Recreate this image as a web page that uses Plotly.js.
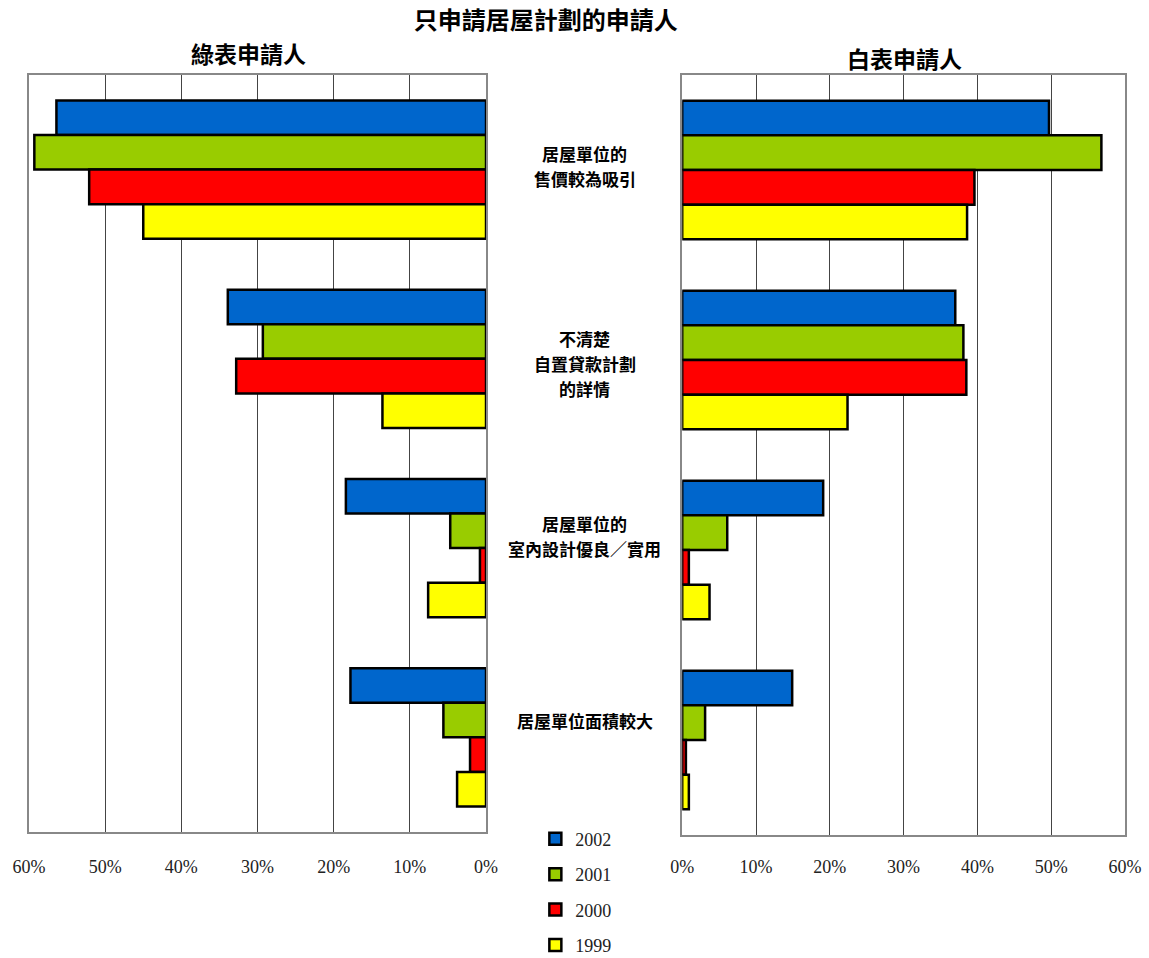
<!DOCTYPE html>
<html>
<head>
<meta charset="utf-8">
<script src="https://cdn.plot.ly/plotly-3.0.1.min.js"></script>
<style>html,body{margin:0;padding:0;background:#fff;}</style>
</head>
<body>
<div id="chart" style="width:1149px;height:958px;"></div>
<script>
const categories = ["居屋單位的<br>售價較為吸引", "不清楚<br>自置貸款計劃<br>的詳情", "居屋單位的<br>室內設計優良／實用", "居屋單位面積較大"];
const years = ["2002", "2001", "2000", "1999"];
const colors = ["#0066CC", "#99CC00", "#FF0000", "#FFFF00"];
// 綠表申請人 (%)
const green2002 = [56.4, 33.9, 18.4, 17.8];
const green2001 = [59.3, 29.3, 4.7, 5.6];
const green2000 = [52.1, 32.8, 0.8, 2.1];
const green1999 = [45.0, 13.6, 7.6, 3.8];
// 白表申請人 (%)
const white2002 = [49.7, 37.0, 19.1, 14.9];
const white2001 = [56.8, 38.1, 6.1, 3.1];
const white2000 = [39.6, 38.5, 0.9, 0.5];
const white1999 = [38.6, 22.4, 3.7, 0.9];
const tickVals = [0, 10, 20, 30, 40, 50, 60];
const tickText = ["0%", "10%", "20%", "30%", "40%", "50%", "60%"];
const labelShift = [4, -5, 12, 17];

const greenSeries = [green2002, green2001, green2000, green1999];
const whiteSeries = [white2002, white2001, white2000, white1999];
const catIdx = categories.map((c, i) => i);

const traces = [];
years.forEach((yr, k) => {
  traces.push({
    type: "bar", orientation: "h", name: yr, legendgroup: yr,
    x: greenSeries[k], y: catIdx, xaxis: "x", yaxis: "y",
    marker: {color: colors[k], line: {color: "#000", width: 2.5}},
    hoverinfo: "x+name"
  });
});
years.forEach((yr, k) => {
  traces.push({
    type: "bar", orientation: "h", name: yr, legendgroup: yr, showlegend: false,
    x: whiteSeries[k], y: catIdx, xaxis: "x2", yaxis: "y2",
    marker: {color: colors[k], line: {color: "#000", width: 2.5}},
    hoverinfo: "x+name"
  });
});

const axisFont = {family: "Liberation Serif, serif", size: 18, color: "#222"};
const xCommon = {
  tickvals: tickVals, ticktext: tickText, tickfont: axisFont,
  showgrid: true, gridcolor: "#444", gridwidth: 1,
  showline: true, linecolor: "#888", linewidth: 2, mirror: true,
  ticks: "", zeroline: false, fixedrange: true
};
const yCommon = {
  showticklabels: false, showgrid: false, zeroline: false,
  showline: true, linecolor: "#888", linewidth: 2, mirror: true,
  range: [3.5, -0.5], fixedrange: true
};

const annotations = [
  {text: "<b>綠表申請人</b>", xref: "paper", yref: "paper", x: 0.2, xanchor: "center", y: 1, yanchor: "bottom", yshift: 3,
   showarrow: false, font: {family: "Noto Sans CJK TC", size: 23, color: "#000"}},
  {text: "<b>白表申請人</b>", xref: "paper", yref: "paper", x: 0.799, xanchor: "center", y: 1, yanchor: "bottom", yshift: -2,
   showarrow: false, font: {family: "Noto Sans CJK TC", size: 23, color: "#000"}}
];
const lineH = 25;
categories.forEach((c, i) => {
  const lines = c.split("<br>");
  const n = lines.length;
  lines.forEach((ln, j) => {
    annotations.push({
      text: "<b>" + ln + "</b>", xref: "paper", yref: "y", x: 0.507, xanchor: "center",
      y: i, yanchor: "middle", yshift: labelShift[i] - (j - (n - 1) / 2) * lineH,
      showarrow: false, align: "center", borderpad: 0,
      font: {family: "Noto Sans CJK TC", size: 17, color: "#000"}
    });
  });
});

const layout = {
  width: 1149, height: 958,
  margin: {l: 29, r: 24, t: 75, b: 123, autoexpand: false},
  paper_bgcolor: "#fff", plot_bgcolor: "#fff",
  title: {text: "<b>只申請居屋計劃的申請人</b>", x: 0.475, xanchor: "center", y: 0.978, yanchor: "middle",
          font: {family: "Noto Sans CJK TC", size: 24, color: "#000"}},
  barmode: "group", bargap: 0.27, bargroupgap: 0,
  xaxis: Object.assign({}, xCommon, {domain: [0, 0.417], range: [60, 0], anchor: "y", ticklabelstandoff: 17}),
  xaxis2: Object.assign({}, xCommon, {domain: [0.596, 1], range: [0, 60], anchor: "y2", ticklabelstandoff: 14}),
  yaxis: Object.assign({}, yCommon, {domain: [0.004, 1], anchor: "x"}),
  yaxis2: Object.assign({}, yCommon, {domain: [0, 1], anchor: "x2"}),
  showlegend: true,
  legend: {x: 0.462, y: 0.019, xanchor: "left", yanchor: "top", orientation: "v",
           font: {family: "Liberation Serif, serif", size: 18, color: "#222"},
           tracegroupgap: 9, itemwidth: 30, bgcolor: "rgba(0,0,0,0)"},
  annotations: annotations
};

Plotly.newPlot("chart", traces, layout, {displayModeBar: false, staticPlot: true});
</script>
</body>
</html>
